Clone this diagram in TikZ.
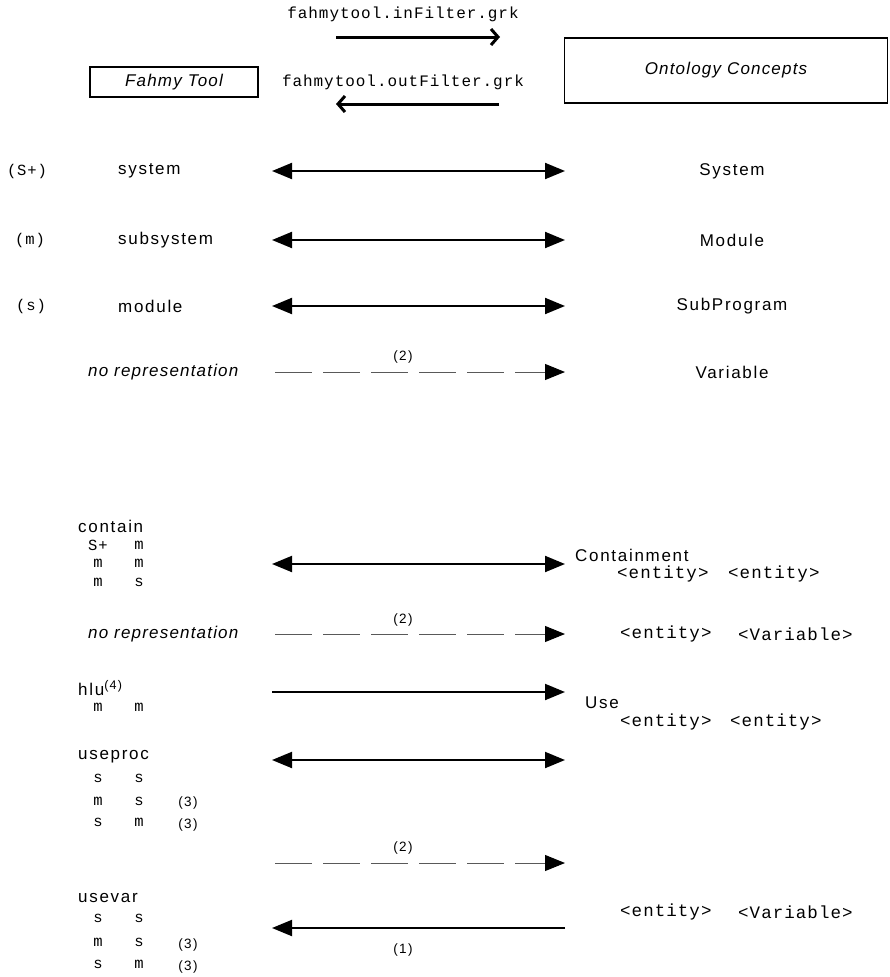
\documentclass[tikz,border=0pt]{standalone}
\usepackage{fontspec}
\setmainfont{Liberation Sans}[LetterSpace=10,ItalicFeatures={LetterSpace=7}]
\newfontfamily\monof{Liberation Mono}[LetterSpace=6]
\usetikzlibrary{arrows.meta}
\newcommand\myfs[1]{\fontsize{#1}{#1}\selectfont}
\tikzset{
 lbl/.style={font=\myfs{17}, inner sep=0pt},
 lw/.style={lbl, anchor=west},
 tt/.style={font=\monof\myfs{15.5}, inner sep=0pt},
 ttw/.style={font=\monof\myfs{17.5}, inner sep=0pt, anchor=west},
 note/.style={font=\myfs{13.5}, inner sep=0pt},
 bi/.style={line width=2pt, {Triangle[length=20pt,width=16pt]}-{Triangle[length=20pt,width=16pt]}},
 one/.style={line width=2pt, -{Triangle[length=20pt,width=16pt]}},
 dsh/.style={draw=black!65, line width=1pt, dash pattern=on 37pt off 11pt, -{Triangle[length=20pt,width=16pt,black]}},
 filt/.style={line width=3pt, -{Straight Barb[length=7pt,width=16pt]}},
 box/.style={draw, line width=1.2pt, font=\itshape\myfs{17}, inner sep=0pt},
}
\begin{document}
\begin{tikzpicture}[x=1pt,y=-1pt]
\useasboundingbox (0,0) rectangle (889,977);
% header
\node[box, minimum width=168pt, minimum height=30pt] (fahmy) at (174,82) {Fahmy Tool};
\node[box, minimum width=323pt, minimum height=65pt] (onto) at (726,70.5) {Ontology Concepts};
\node[tt, font=\monof\myfs{16}] (inf) at (403,14) {fahmytool.inFilter.grk};
\node[tt, font=\monof\myfs{16}] (outf) at (403,82) {fahmytool.outFilter.grk};
\coordinate (i1) at (336,37); \coordinate (i2) at (500,37);
\coordinate (o1) at (499,104); \coordinate (o2) at (336,104);
\draw[filt] (i1) -- (i2);
\draw[filt] (o1) -- (o2);
% row system
\node[tt] (sp) at (27,171) {(S+)};
\node[lw] (sys) at (118,171) {system};
\node[lbl] (Sys) at (732,171) {System};
\coordinate (a1) at (272,171); \coordinate (b1) at (565,171);
\draw[bi] (a1) -- (b1);
% row subsystem
\node[tt] (pm) at (30,240) {(m)};
\node[lw] (subsys) at (118,240) {subsystem};
\node[lbl] (Mod) at (732,240) {Module};
\coordinate (a2) at (272,240); \coordinate (b2) at (565,240);
\draw[bi] (a2) -- (b2);
% row module
\node[tt] (ps) at (31,306) {(s)};
\node[lw] (mod) at (118,306) {module};
\node[lbl] (Sub) at (732,306) {SubProgram};
\coordinate (a3) at (272,306); \coordinate (b3) at (565,306);
\draw[bi] (a3) -- (b3);
% row variable
\node[lw, font=\itshape\myfs{17}] (nr1) at (88,372) {no representation};
\node[lbl] (Var) at (732,372) {Variable};
\coordinate (a4) at (275,372); \coordinate (b4) at (565,372);
\draw[dsh] (a4) -- (b4);
\node[note] (n2a) at (403,357) {(2)};
% contain
\node[lw] (contain) at (78,526) {contain};
\node[tt] (c11) at (98,545) {S+}; \node[tt] (c12) at (139,545) {m};
\node[tt] (c21) at (98,563) {m}; \node[tt] (c22) at (139,563) {m};
\node[tt] (c31) at (98,582) {m}; \node[tt] (c32) at (139,582) {s};
\coordinate (a5) at (272,564); \coordinate (b5) at (565,564);
\draw[bi] (a5) -- (b5);
\node[lw] (cont) at (575,555) {Containment};
\node[ttw] (e1) at (617,574) {<entity>};
\node[ttw] (e2) at (728,574) {<entity>};
% no representation 2
\node[lw, font=\itshape\myfs{17}] (nr2) at (88,634) {no representation};
\coordinate (a6) at (275,634); \coordinate (b6) at (565,634);
\draw[dsh] (a6) -- (b6);
\node[note] (n2b) at (403,620) {(2)};
\node[ttw] (e3) at (620,634) {<entity>};
\node[ttw] (e4) at (738,634) {<Variable>};
% hlu
\node[lw] (hlu) at (78,688) {hlu\raisebox{6pt}{\myfs{12.5}(4)}};
\node[tt] (h1) at (98,707) {m}; \node[tt] (h2) at (139,707) {m};
\coordinate (a7) at (272,692); \coordinate (b7) at (565,692);
\draw[one] (a7) -- (b7);
\node[lw] (use) at (585,703) {Use};
\node[ttw] (e5) at (620,722) {<entity>};
\node[ttw] (e6) at (730,722) {<entity>};
% useproc
\node[lw] (useproc) at (78,757) {useproc};
\node[tt] (u11) at (98,778) {s}; \node[tt] (u12) at (139,778) {s};
\node[tt] (u21) at (98,801) {m}; \node[tt] (u22) at (139,801) {s};
\node[tt] (u31) at (98,822) {s}; \node[tt] (u32) at (139,822) {m};
\node[note] (u23) at (188,803) {(3)};
\node[note] (u33) at (188,825) {(3)};
\coordinate (a8) at (272,760); \coordinate (b8) at (565,760);
\draw[bi] (a8) -- (b8);
% usevar
\node[lw] (usevar) at (78,898) {usevar};
\node[tt] (v11) at (98,918) {s}; \node[tt] (v12) at (139,918) {s};
\node[tt] (v21) at (98,942) {m}; \node[tt] (v22) at (139,942) {s};
\node[tt] (v31) at (98,964) {s}; \node[tt] (v32) at (139,964) {m};
\node[note] (v23) at (188,945) {(3)};
\node[note] (v33) at (188,967) {(3)};
\coordinate (a9) at (275,863); \coordinate (b9) at (565,863);
\draw[dsh] (a9) -- (b9);
\node[note] (n2c) at (403,848) {(2)};
\coordinate (a10) at (565,928); \coordinate (b10) at (272,928);
\draw[one] (a10) -- (b10);
\node[note] (n1) at (403,950) {(1)};
\node[ttw] (e7) at (620,912) {<entity>};
\node[ttw] (e8) at (738,912) {<Variable>};
\end{tikzpicture}
\end{document}
